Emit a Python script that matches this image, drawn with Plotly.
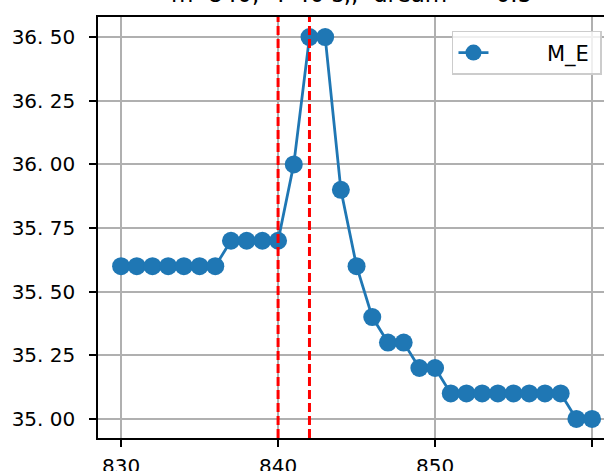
import plotly.graph_objects as go

# data
x_vals = list(range(830, 861))
m_e = [35.6, 35.6, 35.6, 35.6, 35.6, 35.6, 35.6,
       35.7, 35.7, 35.7, 35.7,
       36.0, 36.5, 36.5, 35.9, 35.6, 35.4, 35.3, 35.3, 35.2, 35.2,
       35.1, 35.1, 35.1, 35.1, 35.1, 35.1, 35.1, 35.1,
       35.0, 35.0]
vlines = [840, 842]
y_ticks = [35.0, 35.25, 35.5, 35.75, 36.0, 36.25, 36.5]
y_ticktext = ["35. 00", "35. 25", "35. 50", "35. 75", "36. 00", "36. 25", "36. 50"]
x_ticks = [830, 840, 850, 860]
title_text = "m  840,  T 40 s,,  dream  =  0.5"

FONT = "DejaVu Sans"
BLUE = "#1f77b4"

fig = go.Figure()
fig.add_trace(go.Scatter(
    x=x_vals, y=m_e, mode="lines+markers", name="\u00a0" * 8 + "M_E" + "\u00a0",
    line=dict(color=BLUE, width=2.8),
    marker=dict(color=BLUE, size=18),
))

for v in vlines:
    fig.add_shape(type="line", x0=v, x1=v, xref="x", y0=0, y1=1, yref="y domain",
                  line=dict(color="red", width=3, dash="9px,4px"))

# title sits mostly above the top edge, as in the cropped original
fig.add_annotation(text=title_text, xref="paper", yref="paper", x=0.5, y=1.0,
                   yshift=8, yanchor="bottom", showarrow=False,
                   font=dict(family=FONT, size=23, color="black"))

fig.update_layout(
    width=604, height=471,
    margin=dict(l=98, r=0, t=17, b=33),
    paper_bgcolor="white", plot_bgcolor="white",
    font=dict(family=FONT, size=20, color="black"),
    showlegend=True,
    legend=dict(x=0.996, y=0.967, xanchor="right", yanchor="top",
                bgcolor="rgba(255,255,255,0.8)", bordercolor="#cccccc", borderwidth=1.5,
                font=dict(family=FONT, size=21)),
)
fig.update_xaxes(range=[828.53, 860.76], tickvals=x_ticks, automargin=False,
                 showgrid=True, gridcolor="#b0b0b0", gridwidth=1.5,
                 showline=True, linecolor="black", linewidth=1.5, mirror=True,
                 ticks="outside", ticklen=7, tickwidth=1.5, tickcolor="black",
                 ticklabelstandoff=2, zeroline=False)
fig.update_yaxes(range=[34.925, 36.579], tickvals=y_ticks, ticktext=y_ticktext,
                 automargin=False,
                 showgrid=True, gridcolor="#b0b0b0", gridwidth=1.5,
                 showline=True, linecolor="black", linewidth=1.5,
                 ticks="outside", ticklen=7, tickwidth=1.5, tickcolor="black",
                 ticklabelstandoff=10, zeroline=False)

fig.write_html("out.html", config={"displayModeBar": False},
               post_script="document.body.style.margin = '0';")
